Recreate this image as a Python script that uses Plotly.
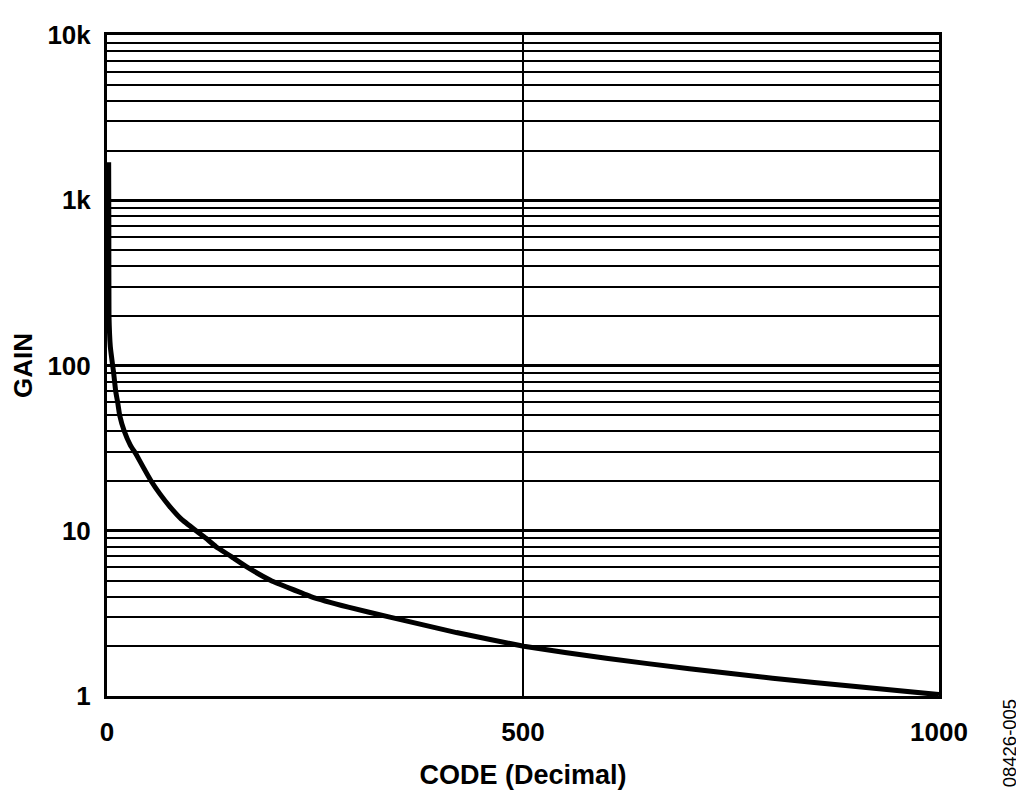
import plotly.graph_objects as go

# gain vs code
code = [2.0, 2.2, 2.4, 4, 6.8, 8, 10.4, 12.8, 15.2, 20.8, 28, 35, 44, 53, 64, 75, 89,
        107, 119, 131, 149, 169, 197, 245, 290, 340, 420, 501, 600, 700, 800, 900, 1000]
gain = [1700, 700, 200, 130, 100, 90, 70, 60, 50, 40, 33, 29, 24, 20, 16.6, 14.1, 11.8,
        10, 9, 8, 7, 6, 5, 4, 3.45, 3, 2.42, 2.0, 1.69, 1.46, 1.28, 1.14, 1.02]

y_ticks = [1, 10, 100, 1000, 10000]
y_labels = ["1", "10", "100", "1k", "10k"]
y_minor = [m * d for d in [1, 10, 100, 1000] for m in range(2, 10)]
x_ticks = [0, 500, 1000]

font_main = "Liberation Sans, Arial, sans-serif"

fig = go.Figure()
fig.add_trace(go.Scatter(
    x=code, y=gain, mode="lines",
    line=dict(color="black", width=5, shape="spline", smoothing=0.3),
    showlegend=False,
))

fig.update_layout(
    width=1024, height=801,
    margin=dict(l=98, r=93, t=23, b=113),
    plot_bgcolor="white", paper_bgcolor="white",
    font=dict(family=font_main, color="black"),
    xaxis=dict(
        range=[0, 1000], tickvals=x_ticks, ticktext=[str(v) for v in x_ticks],
        showgrid=True, gridcolor="black", gridwidth=2, zeroline=False,
        showline=True, linecolor="black", linewidth=3, mirror=True,
        ticks="", ticklabelstandoff=11,
        tickfont=dict(size=26, family=font_main, weight="bold"),
        title=dict(text="<b>CODE (Decimal)</b>", font=dict(size=27), standoff=19),
    ),
    yaxis=dict(
        type="log", range=[0, 4], tickvals=y_ticks, ticktext=y_labels,
        showgrid=True, gridcolor="black", gridwidth=3, zeroline=False,
        showline=True, linecolor="black", linewidth=3, mirror=True,
        ticks="", ticklabelstandoff=8,
        tickfont=dict(size=26, family=font_main, weight="bold"),
        minor=dict(tickvals=y_minor, showgrid=True, gridcolor="black", gridwidth=2),
        title=dict(text="<b>GAIN</b>", font=dict(size=26), standoff=9),
    ),
    annotations=[dict(
        text="08426-005", xref="paper", yref="paper", x=1.085, y=-0.072,
        xanchor="center", yanchor="middle",
        showarrow=False, textangle=-90, font=dict(size=18.5, family=font_main),
    )],
)

fig.write_html("out.html")
